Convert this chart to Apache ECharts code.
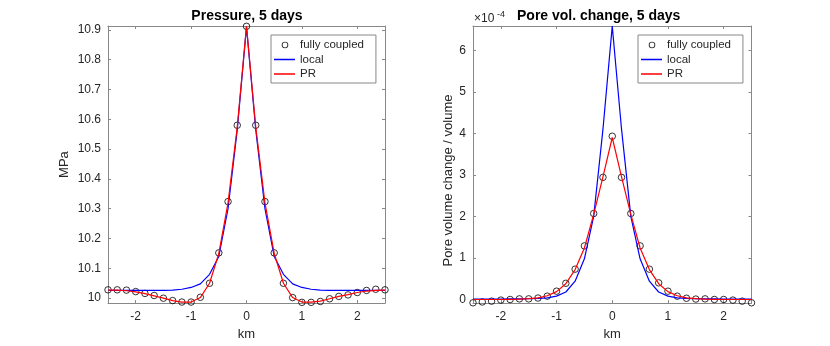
<!DOCTYPE html>
<html>
<head>
<meta charset="utf-8">
<script src="https://cdn.jsdelivr.net/npm/echarts@6/dist/echarts.min.js"></script>
<style>
  html, body { margin: 0; padding: 0; background: #fff; }
  #chart { width: 830px; height: 346px; }
</style>
</head>
<body>
<div id="chart"></div>
<script>
// distance along the profile, km
var km = [-2.5, -2.3333, -2.1667, -2, -1.8333, -1.6667, -1.5, -1.3333, -1.1667, -1, -0.8333, -0.6667, -0.5, -0.3333, -0.1667,
    0, 0.1667, 0.3333, 0.5, 0.6667, 0.8333, 1, 1.1667, 1.3333, 1.5, 1.6667, 1.8333, 2, 2.1667, 2.3333, 2.5];

// pressure, MPa
var pres_full = [10.028, 10.028, 10.027, 10.022, 10.016, 10.009, 10.000, 9.992, 9.987, 9.987, 10.003, 10.050, 10.152, 10.324, 10.580,
    10.912, 10.580, 10.324, 10.152, 10.050, 10.002, 9.986, 9.986, 9.989, 9.998, 10.006, 10.011, 10.019, 10.026, 10.030, 10.028];
var pres_local = [10.026, 10.026, 10.026, 10.026, 10.026, 10.026, 10.026, 10.027, 10.030, 10.036, 10.048, 10.080, 10.140, 10.300, 10.565,
    10.910, 10.565, 10.300, 10.140, 10.080, 10.048, 10.036, 10.030, 10.027, 10.026, 10.026, 10.026, 10.026, 10.026, 10.026, 10.026];
var pres_pr = [10.027, 10.027, 10.025, 10.021, 10.015, 10.008, 10.000, 9.992, 9.987, 9.987, 10.002, 10.050, 10.150, 10.320, 10.575,
    10.912, 10.575, 10.320, 10.150, 10.050, 10.002, 9.987, 9.987, 9.990, 9.998, 10.006, 10.012, 10.019, 10.024, 10.026, 10.027];

// pore volume change / volume, in units of 1e-4
var pore_full = [-0.08, -0.06, -0.04, -0.015, 0, 0.015, 0.015, 0.035, 0.08, 0.20, 0.39, 0.73, 1.29, 2.07, 2.94,
    3.93, 2.94, 2.07, 1.29, 0.73, 0.40, 0.20, 0.08, 0.03, 0.01, 0.015, 0, 0, -0.015, -0.04, -0.08];
var pore_local = [0.01, 0.01, 0.01, 0.012, 0.013, 0.015, 0.018, 0.025, 0.04, 0.08, 0.18, 0.44, 0.98, 2.0, 4.1,
    6.58, 4.1, 2.0, 0.98, 0.44, 0.18, 0.08, 0.04, 0.025, 0.018, 0.015, 0.013, 0.012, 0.01, 0.01, 0.01];
var pore_pr = [0, 0, 0, 0, 0.005, 0.01, 0.02, 0.04, 0.09, 0.19, 0.38, 0.72, 1.24, 2.05, 2.95,
    3.90, 2.95, 2.05, 1.24, 0.72, 0.38, 0.19, 0.09, 0.04, 0.02, 0.01, 0.005, 0, 0, 0, 0];

var km_ticks = [-2, -1, 0, 1, 2];
var pres_ticks = [10, 10.1, 10.2, 10.3, 10.4, 10.5, 10.6, 10.7, 10.8, 10.9];
var pore_ticks = [0, 1, 2, 3, 4, 5, 6];

var AX = '#888';
var TXT = '#262626';
var BLUE = '#0000ff';
var RED = '#ff0000';
var FONT = 'Liberation Sans, Arial, sans-serif';

function pairs(xs, ys) {
    var out = [];
    for (var i = 0; i < xs.length; i++) out.push([xs[i], ys[i]]);
    return out;
}

function num_label(v) {
    return String(Math.round(v * 10) / 10);
}

function make_x(grid, pos, show_label, name) {
    return {
        type: 'value', gridIndex: grid, position: pos, min: -2.5, max: 2.5,
        name: name, nameLocation: 'middle', nameGap: 22,
        nameTextStyle: { fontSize: 13, color: TXT, fontFamily: FONT },
        axisLine: { show: true, onZero: false, lineStyle: { color: AX, width: 1 } },
        axisTick: { show: true, inside: true, length: 3, customValues: km_ticks, lineStyle: { color: AX } },
        axisLabel: { show: show_label, customValues: km_ticks, margin: 8, fontSize: 12, color: TXT, fontFamily: FONT, formatter: num_label },
        splitLine: { show: false }
    };
}

function make_y(grid, pos, show_label, min, max, ticks, name, gap, pad) {
    return {
        type: 'value', gridIndex: grid, position: pos, min: min, max: max,
        name: name, nameLocation: 'middle', nameGap: gap,
        nameTextStyle: { fontSize: 13, color: TXT, fontFamily: FONT, padding: pad },
        axisLine: { show: true, onZero: false, lineStyle: { color: AX, width: 1 } },
        axisTick: { show: true, inside: true, length: 3, customValues: ticks, lineStyle: { color: AX } },
        axisLabel: { show: show_label, customValues: ticks, margin: 7, fontSize: 12, color: TXT, fontFamily: FONT, formatter: num_label },
        splitLine: { show: false }
    };
}

// legend icons: tiny corner dots fix the 21x10 box, the visible part is the ring / the bar
var RING_ICON = 'path://M0,0L0.01,0L0,0.01Z M21,10L20.99,10L21,9.99Z ' +
    'M14.3,5A3.3,3.3,0,0,1,7.7,5A3.3,3.3,0,0,1,14.3,5Z M13.4,5A2.4,2.4,0,0,0,8.6,5A2.4,2.4,0,0,0,13.4,5Z';
var LINE_ICON = 'path://M0,0L0.01,0L0,0.01Z M21,10L20.99,10L21,9.99Z M0,4.25L21,4.25L21,5.75L0,5.75Z';

function make_legend(left) {
    return {
        orient: 'vertical', left: left, top: 35,
        itemWidth: 21, itemHeight: 10, itemGap: 2.5,
        padding: [4, 12, 3, 3],
        borderColor: AX, borderWidth: 1, backgroundColor: '#fff',
        textStyle: { fontSize: 11.5, color: TXT, fontFamily: FONT },
        selectedMode: false,
        data: [
            { name: 'fully coupled', icon: RING_ICON, itemStyle: { color: '#000', borderWidth: 0 } },
            { name: 'local', icon: LINE_ICON, itemStyle: { color: BLUE, borderColor: BLUE, borderWidth: 0 } },
            { name: 'PR', icon: LINE_ICON, itemStyle: { color: RED, borderColor: RED, borderWidth: 0 } }
        ]
    };
}

function circles(xi, yi, data) {
    return {
        name: 'fully coupled', type: 'scatter', xAxisIndex: xi, yAxisIndex: yi,
        data: data, symbol: 'circle', symbolSize: 6.5,
        itemStyle: { color: 'transparent', borderColor: '#000', borderWidth: 1 },
        silent: true, z: 2
    };
}

function curve(name, color, xi, yi, data) {
    return {
        name: name, type: 'line', xAxisIndex: xi, yAxisIndex: yi,
        data: data, symbol: 'none', showSymbol: false, color: color,
        lineStyle: { color: color, width: 1.2 }, itemStyle: { color: color },
        silent: true, z: 3
    };
}

var option = {
    animation: false,
    backgroundColor: '#fff',
    textStyle: { fontFamily: FONT },
    title: [
        { text: 'Pressure, 5 days', left: 247, top: 9, textAlign: 'center', padding: 0,
          textStyle: { fontSize: 14, fontWeight: 'bold', color: '#000', fontFamily: FONT } },
        { text: 'Pore vol. change, 5 days', left: 517, top: 9, padding: 0,
          textStyle: { fontSize: 14, fontWeight: 'bold', color: '#000', fontFamily: FONT } },
        { text: '×10', left: 474, top: 13, padding: 0,
          textStyle: { fontSize: 12, fontWeight: 'normal', color: TXT, fontFamily: FONT } },
        { text: '-4', left: 497, top: 10, padding: 0,
          textStyle: { fontSize: 9, fontWeight: 'normal', color: TXT, fontFamily: FONT } }
    ],
    grid: [
        { left: 108, top: 26, width: 277, height: 282 },
        { left: 473, top: 26, width: 278.5, height: 282 }
    ],
    legend: [make_legend(271), make_legend(638)],
    xAxis: [
        make_x(0, 'bottom', true, 'km'),
        make_x(0, 'top', false, ''),
        make_x(1, 'bottom', true, 'km'),
        make_x(1, 'top', false, '')
    ],
    yAxis: [
        make_y(0, 'left', true, 9.9835, 10.913, pres_ticks, 'MPa', 37, 0),
        make_y(0, 'right', false, 9.9835, 10.913, pres_ticks, '', 0, 0),
        make_y(1, 'left', true, -0.087, 6.584, pore_ticks, 'Pore volume change / volume', 18, [0, 32, 0, 0]),
        make_y(1, 'right', false, -0.087, 6.584, pore_ticks, '', 0, 0)
    ],
    series: [
        circles(0, 0, pairs(km, pres_full)),
        curve('local', BLUE, 0, 0, pairs(km, pres_local)),
        curve('PR', RED, 0, 0, pairs(km, pres_pr)),
        circles(2, 2, pairs(km, pore_full)),
        curve('local', BLUE, 2, 2, pairs(km, pore_local)),
        curve('PR', RED, 2, 2, pairs(km, pore_pr))
    ]
};

var myChart = echarts.init(document.getElementById('chart'));
myChart.setOption(option);
</script>
</body>
</html>
